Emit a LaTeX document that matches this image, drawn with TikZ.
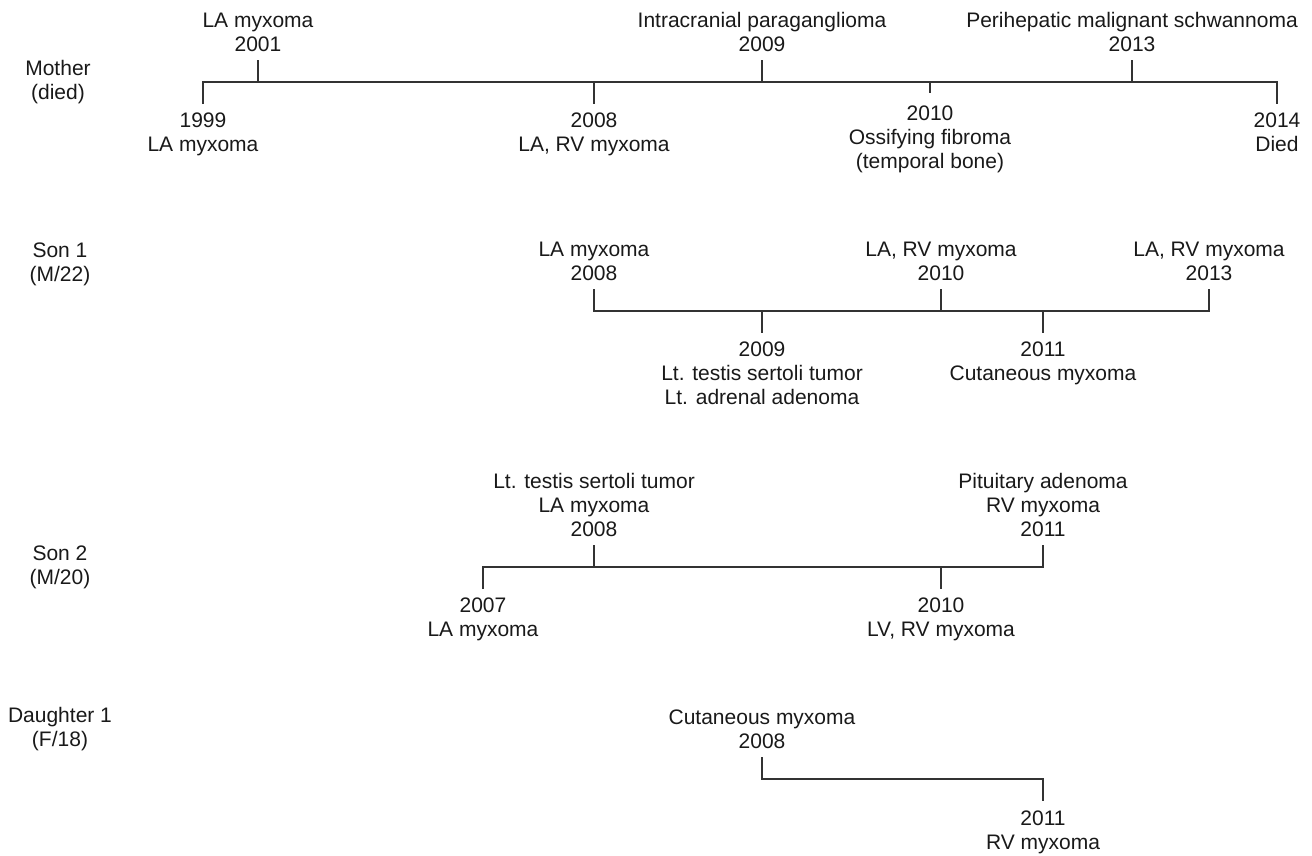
\documentclass[tikz,border=0pt]{standalone}
\usepackage{fontspec}
\setmainfont{Liberation Sans}
\tikzset{
  lbl/.style={font=\fontsize{21}{24}\selectfont, align=center, inner sep=0pt, text=black!90},
  uplbl/.style={lbl, anchor=south},
  dnlbl/.style={lbl, anchor=north},
  who/.style={lbl, anchor=center},
  tl/.style={line width=1.3pt, draw=black!80, line cap=butt, line join=miter}
}
\begin{document}
\begin{tikzpicture}[x=1pt,y=-1pt]
\useasboundingbox (0,0) rectangle (1312,855);

% ---------------- Mother ----------------
\node[who] (mother) at (58,82) {Mother\\(died)};
\coordinate (m99) at (203,82);   \coordinate (m99e) at (203,104);
\coordinate (m01) at (258,82);   \coordinate (m01e) at (258,60);
\coordinate (m08) at (594,82);   \coordinate (m08e) at (594,104);
\coordinate (m09) at (762,82);   \coordinate (m09e) at (762,60);
\coordinate (m10) at (930,82);   \coordinate (m10e) at (930,93);
\coordinate (m13) at (1132,82);  \coordinate (m13e) at (1132,60);
\coordinate (m14) at (1277,82);  \coordinate (m14e) at (1277,104);
\draw[tl] (m99e) -- (m99) -- (m14) -- (m14e);
\draw[tl] (m01) -- (m01e);
\draw[tl] (m08) -- (m08e);
\draw[tl] (m09) -- (m09e);
\draw[tl] (m10) -- (m10e);
\draw[tl] (m13) -- (m13e);
\node[dnlbl] (lm99) at (203,113) {1999\\LA myxoma};
\node[uplbl] (lm01) at (258,52) {LA myxoma\\2001};
\node[dnlbl] (lm08) at (594,113) {2008\\LA, RV myxoma};
\node[uplbl] (lm09) at (762,52) {Intracranial paraganglioma\\2009};
\node[dnlbl] (lm10) at (930,106) {2010\\Ossifying fibroma\\(temporal bone)};
\node[uplbl] (lm13) at (1132,52) {Perihepatic malignant schwannoma\\2013};
\node[dnlbl] (lm14) at (1277,113) {2014\\Died};

% ---------------- Son 1 ----------------
\node[who] (son1) at (60,264) {Son 1\\(M/22)};
\coordinate (a08) at (594,311);   \coordinate (a08e) at (594,289);
\coordinate (a09) at (762,311);   \coordinate (a09e) at (762,333);
\coordinate (a10) at (941,311);   \coordinate (a10e) at (941,289);
\coordinate (a11) at (1043,311);  \coordinate (a11e) at (1043,333);
\coordinate (a13) at (1209,311);  \coordinate (a13e) at (1209,289);
\draw[tl] (a08e) -- (a08) -- (a13) -- (a13e);
\draw[tl] (a09) -- (a09e);
\draw[tl] (a10) -- (a10e);
\draw[tl] (a11) -- (a11e);
\node[uplbl] (la08) at (594,281) {LA myxoma\\2008};
\node[dnlbl] (la09) at (762,342) {2009\\Lt. testis sertoli tumor\\Lt. adrenal adenoma};
\node[uplbl] (la10) at (941,281) {LA, RV myxoma\\2010};
\node[dnlbl] (la11) at (1043,342) {2011\\Cutaneous myxoma};
\node[uplbl] (la13) at (1209,281) {LA, RV myxoma\\2013};

% ---------------- Son 2 ----------------
\node[who] (son2) at (60,567) {Son 2\\(M/20)};
\coordinate (b07) at (483,567);   \coordinate (b07e) at (483,589);
\coordinate (b08) at (594,567);   \coordinate (b08e) at (594,545);
\coordinate (b10) at (941,567);   \coordinate (b10e) at (941,589);
\coordinate (b11) at (1043,567);  \coordinate (b11e) at (1043,545);
\draw[tl] (b07e) -- (b07) -- (b11) -- (b11e);
\draw[tl] (b08) -- (b08e);
\draw[tl] (b10) -- (b10e);
\node[dnlbl] (lb07) at (483,598) {2007\\LA myxoma};
\node[uplbl] (lb08) at (594,537) {Lt. testis sertoli tumor\\LA myxoma\\2008};
\node[dnlbl] (lb10) at (941,598) {2010\\LV, RV myxoma};
\node[uplbl] (lb11) at (1043,537) {Pituitary adenoma\\RV myxoma\\2011};

% ---------------- Daughter 1 ----------------
\node[who] (dau1) at (60,729) {Daughter 1\\(F/18)};
\coordinate (c08) at (762,779);   \coordinate (c08e) at (762,757);
\coordinate (c11) at (1043,779);  \coordinate (c11e) at (1043,801);
\draw[tl] (c08e) -- (c08) -- (c11) -- (c11e);
\node[uplbl] (lc08) at (762,749) {Cutaneous myxoma\\2008};
\node[dnlbl] (lc11) at (1043,811) {2011\\RV myxoma};
\end{tikzpicture}
\end{document}
